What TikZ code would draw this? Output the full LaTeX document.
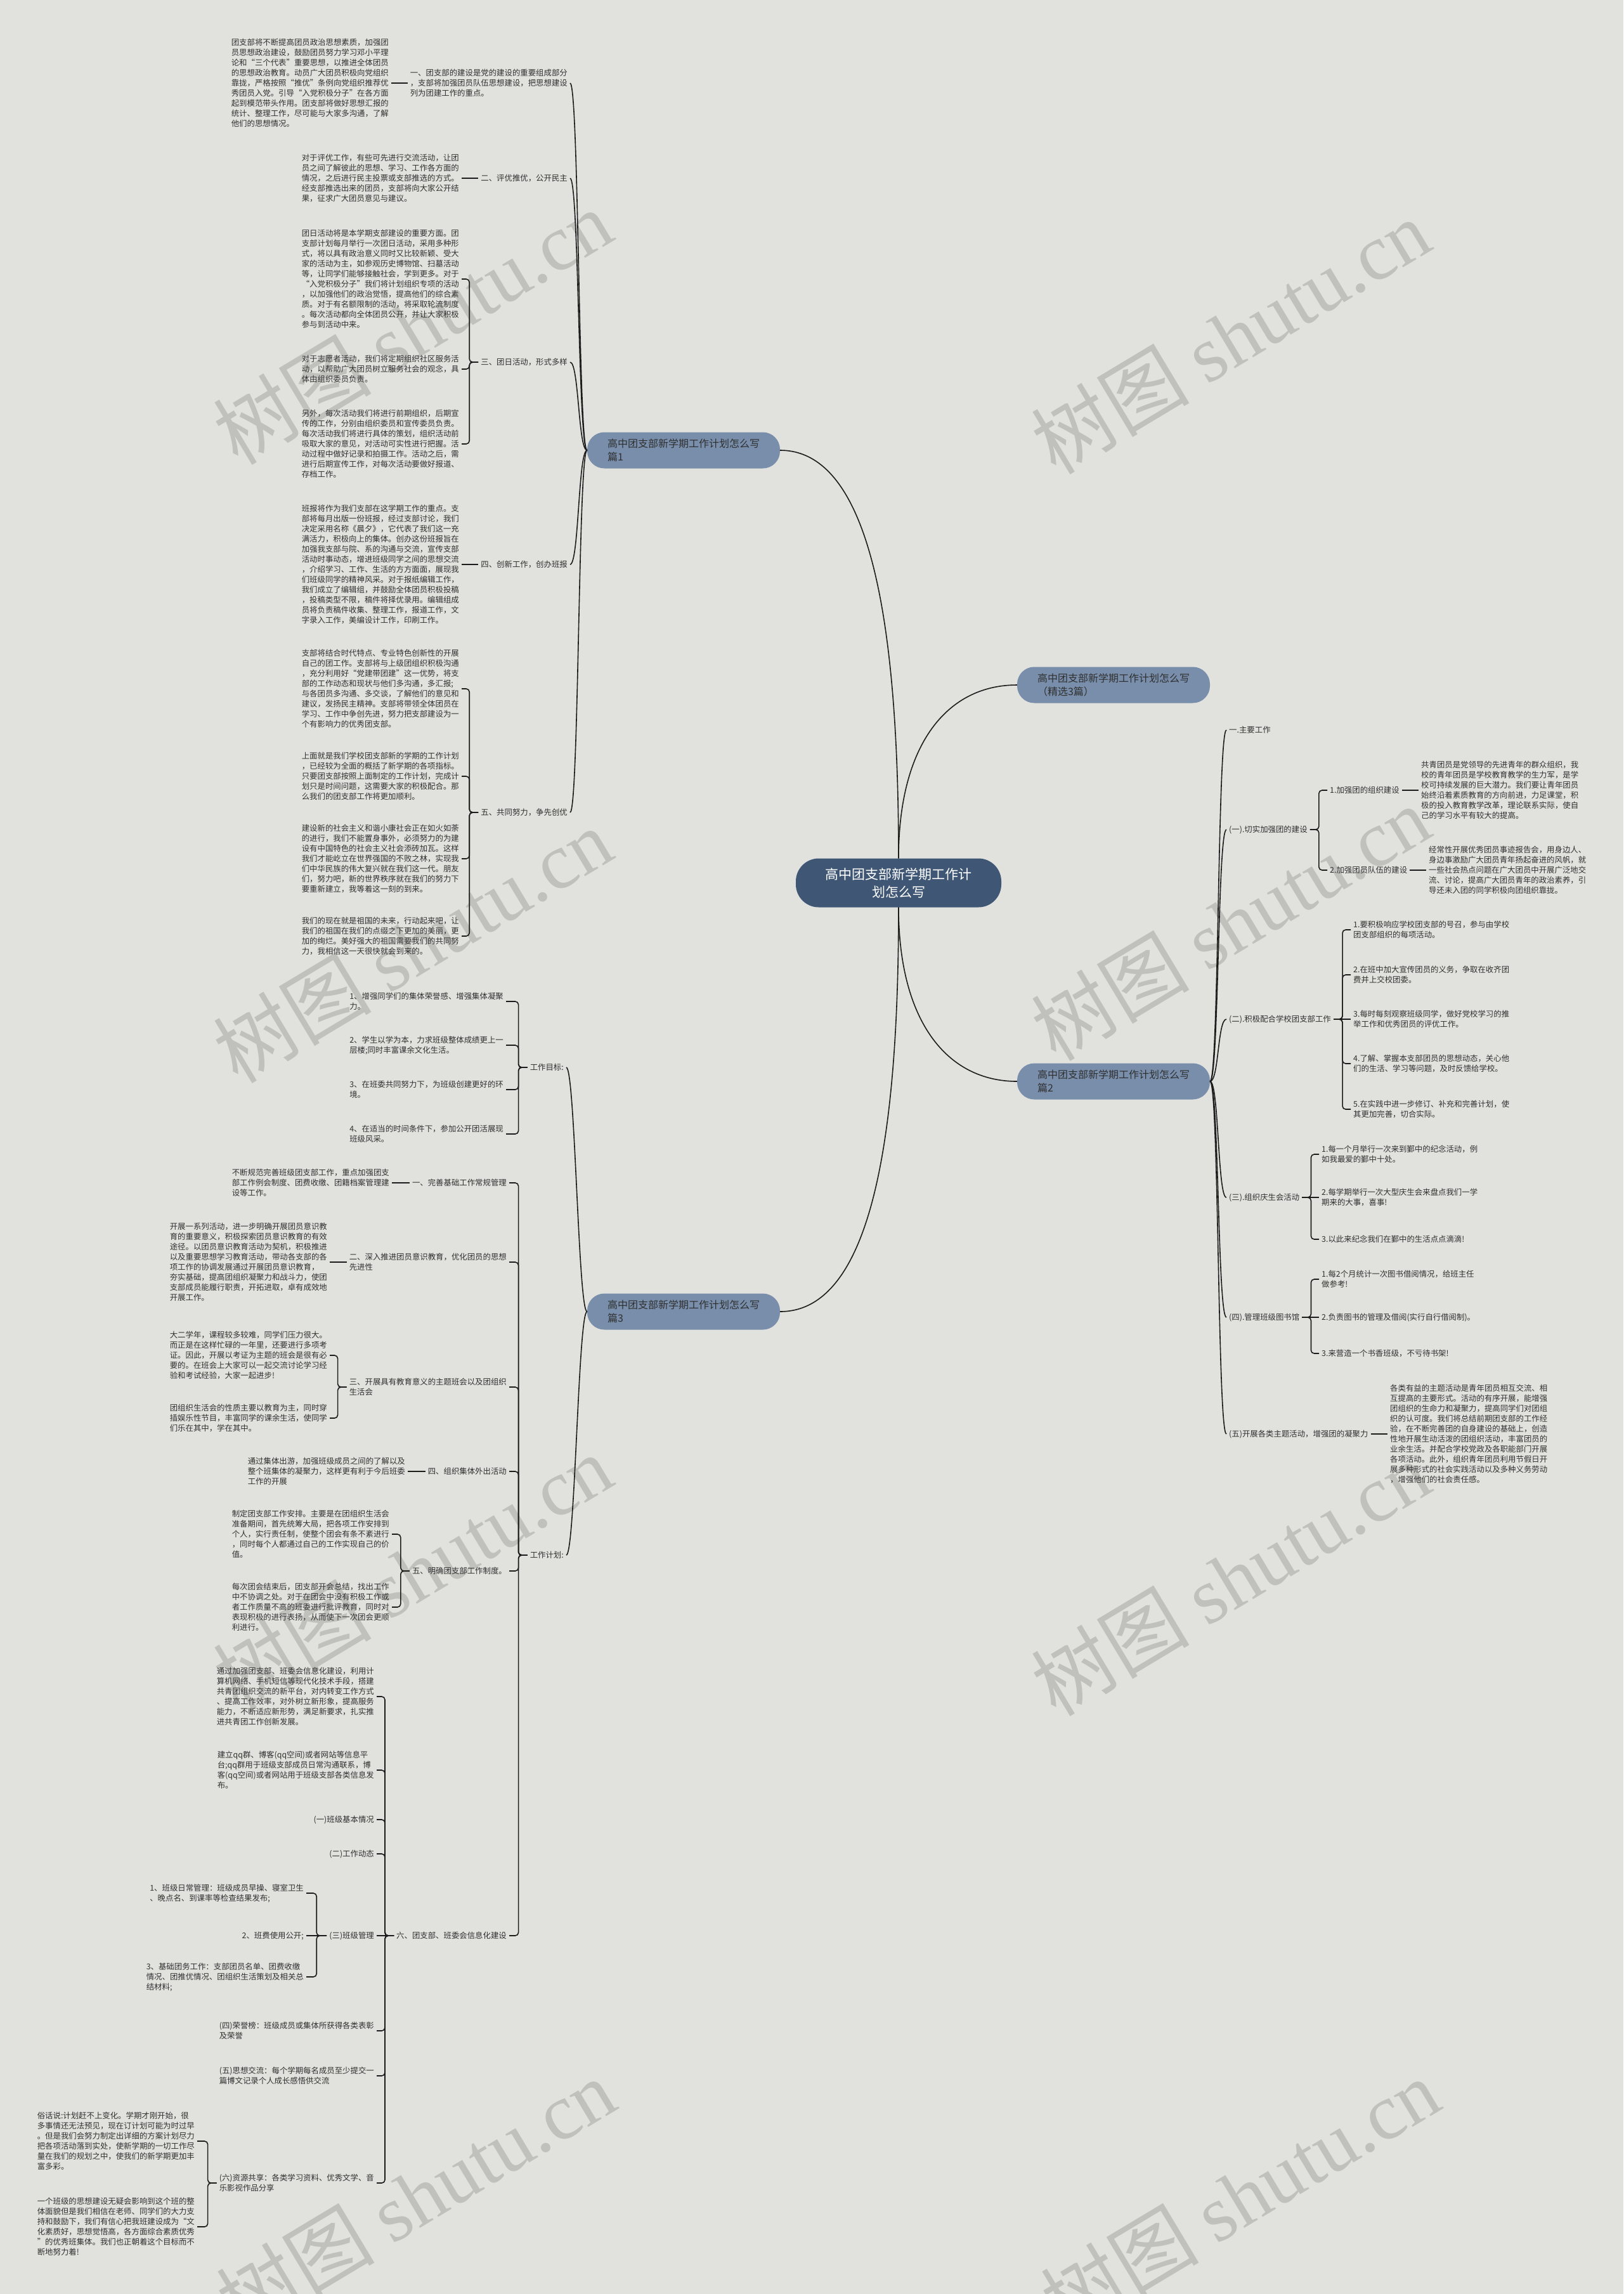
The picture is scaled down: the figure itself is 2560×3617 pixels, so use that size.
\documentclass[tikz,border=0pt]{standalone}
\usepackage{fontspec}
\setmainfont{Noto Sans CJK SC}
\newfontfamily\wmfont{Liberation Serif}
\usetikzlibrary{positioning}

\definecolor{paper}{RGB}{225,226,222}
\definecolor{ink}{RGB}{48,48,48}
\definecolor{wire}{RGB}{28,28,28}
\definecolor{rootblue}{RGB}{63,87,117}
\definecolor{catblue}{RGB}{120,142,171}
\definecolor{wmgray}{RGB}{192,193,189}

\tikzset{
  txt/.style={font=\fontsize{12.4}{16}\selectfont, text=ink, align=left, inner xsep=4pt, inner ysep=1pt},
  cat/.style={fill=catblue, rounded corners=27pt, minimum width=304pt, minimum height=57pt,
    font=\fontsize{16}{21}\selectfont, text=ink, align=left},
  root/.style={fill=rootblue, rounded corners=36pt, minimum width=324pt, minimum height=77pt,
    font=\fontsize{21}{28}\selectfont, text=white, align=center},
  link/.style={draw=wire, line width=1.6pt},
  brk/.style={link, rounded corners=5pt},
  wm/.style={text=wmgray, font=\fontsize{125}{125}\selectfont, rotate=31, inner sep=0pt}
}

\begin{document}
\begin{tikzpicture}[x=1pt, y=-1pt]
    \fill[paper] (0,0) rectangle (2560,3617);
    \useasboundingbox (0,0) rectangle (2560,3617);

    % watermark
    \foreach \wx/\wy [count=\i] in {650/515, 1940/530, 650/1490, 1940/1455, 650/2478, 1940/2488, 655/3462, 1955/3462}
        \node[wm] (wm\i) at (\wx,\wy) {树图 {\wmfont shutu.cn}};

    % ---------------- ROOT ---------------- %
    \node[root] (root) at (1417,1392) {高中团支部新学期工作计\\划怎么写};
    \node[cat] (c1) at (1078,710) {高中团支部新学期工作计划怎么写\\篇1};
    \node[cat] (c0) at (1756,1080) {高中团支部新学期工作计划怎么写\\（精选3篇）};
    \node[cat] (c2) at (1756,1705) {高中团支部新学期工作计划怎么写\\篇2};
    \node[cat] (c3) at (1078,2068) {高中团支部新学期工作计划怎么写\\篇3};

    \draw[link] (root.north) .. controls +(0,-340) and +(150,0) .. (c1.east);
    \draw[link] (root.north) .. controls +(0,-180) and +(-110,0) .. (c0.west);
    \draw[link] (root.south) .. controls +(0,180) and +(-110,0) .. (c2.west);
    \draw[link] (root.south) .. controls +(0,340) and +(150,0) .. (c3.east);

    % ---------------- BRANCH 1 ---------------- %
    \begin{scope}
        \node[txt, anchor=east] (a1) at (899,131) {一、团支部的建设是党的建设的重要组成部分\\，支部将加强团员队伍思想建设，把思想建设\\列为团建工作的重点。};
        \node[txt, anchor=east] (t1) at (617,131) {团支部将不断提高团员政治思想素质，加强团\\员思想政治建设，鼓励团员努力学习邓小平理\\论和“三个代表”重要思想，以推进全体团员\\的思想政治教育。动员广大团员积极向党组织\\靠拢，严格按照“推优”条例向党组织推荐优\\秀团员入党。引导“入党积极分子”在各方面\\起到模范带头作用。团支部将做好思想汇报的\\统计、整理工作，尽可能与大家多沟通，了解\\他们的思想情况。};
        \node[txt, anchor=east] (a2) at (899,281) {二、评优推优，公开民主};
        \node[txt, anchor=east] (t2) at (728,281) {对于评优工作，有些可先进行交流活动，让团\\员之间了解彼此的思想、学习、工作各方面的\\情况，之后进行民主投票或支部推选的方式。\\经支部推选出来的团员，支部将向大家公开结\\果，征求广大团员意见与建议。};
        \node[txt, anchor=east] (a3) at (899,571) {三、团日活动，形式多样};
        \node[txt, anchor=east] (t3a) at (728,440) {团日活动将是本学期支部建设的重要方面。团\\支部计划每月举行一次团日活动，采用多种形\\式，将以具有政治意义同时又比较新颖、受大\\家的活动为主，如参观历史博物馆、扫墓活动\\等，让同学们能够接触社会，学到更多。对于\\“入党积极分子”我们将计划组织专项的活动\\，以加强他们的政治觉悟，提高他们的综合素\\质。对于有名额限制的活动，将采取轮流制度\\。每次活动都向全体团员公开，并让大家积极\\参与到活动中来。};
        \node[txt, anchor=east] (t3b) at (728,582) {对于志愿者活动，我们将定期组织社区服务活\\动，以帮助广大团员树立服务社会的观念，具\\体由组织委员负责。};
        \node[txt, anchor=east] (t3c) at (728,700) {另外，每次活动我们将进行前期组织，后期宣\\传的工作，分别由组织委员和宣传委员负责。\\每次活动我们将进行具体的策划，组织活动前\\吸取大家的意见，对活动可实性进行把握。活\\动过程中做好记录和拍摄工作。活动之后，需\\进行后期宣传工作，对每次活动要做好报道、\\存档工作。};
        \node[txt, anchor=east] (a4) at (899,890) {四、创新工作，创办班报};
        \node[txt, anchor=east] (t4) at (728,890) {班报将作为我们支部在这学期工作的重点。支\\部将每月出版一份班报，经过支部讨论，我们\\决定采用名称《晨夕》，它代表了我们这一充\\满活力，积极向上的集体。创办这份班报旨在\\加强我支部与院、系的沟通与交流，宣传支部\\活动时事动态，增进班级同学之间的思想交流\\，介绍学习、工作、生活的方方面面，展现我\\们班级同学的精神风采。对于报纸编辑工作，\\我们成立了编辑组，并鼓励全体团员积极投稿\\，投稿类型不限，稿件将择优录用。编辑组成\\员将负责稿件收集、整理工作，报道工作，文\\字录入工作，美编设计工作，印刷工作。};
        \node[txt, anchor=east] (a5) at (899,1281) {五、共同努力，争先创优};
        \node[txt, anchor=east] (t5a) at (728,1086) {支部将结合时代特点、专业特色创新性的开展\\自己的团工作。支部将与上级团组织积极沟通\\，充分利用好“党建带团建”这一优势，将支\\部的工作动态和现状与他们多沟通，多汇报;\\与各团员多沟通、多交谈，了解他们的意见和\\建议，发扬民主精神。支部将带领全体团员在\\学习、工作中争创先进，努力把支部建设为一\\个有影响力的优秀团支部。};
        \node[txt, anchor=east] (t5b) at (728,1224) {上面就是我们学校团支部新的学期的工作计划\\，已经较为全面的概括了新学期的各项指标。\\只要团支部按照上面制定的工作计划，完成计\\划只是时间问题，这需要大家的积极配合。那\\么我们的团支部工作将更加顺利。};
        \node[txt, anchor=east] (t5c) at (728,1354) {建设新的社会主义和谐小康社会正在如火如荼\\的进行，我们不能置身事外，必须努力的为建\\设有中国特色的社会主义社会添砖加瓦。这样\\我们才能屹立在世界强国的不败之林，实现我\\们中华民族的伟大复兴就在我们这一代。朋友\\们，努力吧，新的世界秩序就在我们的努力下\\要重新建立，我等着这一刻的到来。};
        \node[txt, anchor=east] (t5d) at (728,1476) {我们的现在就是祖国的未来，行动起来吧，让\\我们的祖国在我们的点缀之下更加的美丽，更\\加的绚烂。美好强大的祖国需要我们的共同努\\力，我相信这一天很快就会到来的。};

        \foreach \l in {a1,a2,a3,a4,a5}
            \draw[link] (c1.west) .. controls +(-14,0) and +(14,0) .. (\l.east);
        \draw[link] (t1.east) -- (a1.west);
        \draw[link] (t2.east) -- (a2.west);
        \draw[link] (t4.east) -- (a4.west);
        \foreach \c in {t3a,t3b,t3c}
            \draw[brk] (a3.west) -- ++(-14,0) |- (\c.east);
        \foreach \c in {t5a,t5b,t5c,t5d}
            \draw[brk] (a5.west) -- ++(-14,0) |- (\c.east);
    \end{scope}

    % ---------------- BRANCH 3 ---------------- %
    \begin{scope}
        \node[txt, anchor=east] (g) at (893,1683) {工作目标:};
        \node[txt, anchor=east] (g1) at (798,1579) {1、增强同学们的集体荣誉感、增强集体凝聚\\力。};
        \node[txt, anchor=east] (g2) at (798,1648) {2、学生以学为本，力求班级整体成绩更上一\\层楼;同时丰富课余文化生活。};
        \node[txt, anchor=east] (g3) at (798,1718) {3、在班委共同努力下，为班级创建更好的环\\境。};
        \node[txt, anchor=east] (g4) at (798,1788) {4、在适当的时间条件下，参加公开团活展现\\班级风采。};

        \node[txt, anchor=east] (w) at (893,2452) {工作计划:};
        \node[txt, anchor=east] (p1) at (803,1865) {一、完善基础工作常规管理};
        \node[txt, anchor=east] (q1) at (618,1865) {不断规范完善班级团支部工作，重点加强团支\\部工作例会制度、团费收缴、团籍档案管理建\\设等工作。};
        \node[txt, anchor=east] (p2) at (803,1990) {二、深入推进团员意识教育，优化团员的思想\\先进性};
        \node[txt, anchor=east] (q2) at (520,1990) {开展一系列活动，进一步明确开展团员意识教\\育的重要意义，积极探索团员意识教育的有效\\途径。以团员意识教育活动为契机，积极推进\\以及重要思想学习教育活动，带动各支部的各\\项工作的协调发展通过开展团员意识教育，\\夯实基础，提高团组织凝聚力和战斗力，使团\\支部成员能履行职责，开拓进取，卓有成效地\\开展工作。};
        \node[txt, anchor=east] (p3) at (803,2187) {三、开展具有教育意义的主题班会以及团组织\\生活会};
        \node[txt, anchor=east] (q3a) at (520,2137) {大二学年，课程较多较难，同学们压力很大。\\而正是在这样忙碌的一年里，还要进行多项考\\证。因此，开展以考证为主题的班会是很有必\\要的。在班会上大家可以一起交流讨论学习经\\验和考试经验，大家一起进步!};
        \node[txt, anchor=east] (q3b) at (520,2236) {团组织生活会的性质主要以教育为主，同时穿\\插娱乐性节目，丰富同学的课余生活，使同学\\们乐在其中，学在其中。};
        \node[txt, anchor=east] (p4) at (803,2320) {四、组织集体外出活动};
        \node[txt, anchor=east] (q4) at (643,2320) {通过集体出游，加强班级成员之间的了解以及\\整个班集体的凝聚力，这样更有利于今后班委\\工作的开展};
        \node[txt, anchor=east] (p5) at (803,2477) {五、明确团支部工作制度。};
        \node[txt, anchor=east] (q5a) at (618,2419) {制定团支部工作安排。主要是在团组织生活会\\准备期间，首先统筹大局，把各项工作安排到\\个人，实行责任制，使整个团会有条不紊进行\\，同时每个人都通过自己的工作实现自己的价\\值。};
        \node[txt, anchor=east] (q5b) at (618,2534) {每次团会结束后，团支部开会总结，找出工作\\中不协调之处。对于在团会中没有积极工作或\\者工作质量不高的班委进行批评教育，同时对\\表现积极的进行表扬，从而使下一次团会更顺\\利进行。};
        \node[txt, anchor=east] (p6) at (803,3052) {六、团支部、班委会信息化建设};
        \node[txt, anchor=east] (r1) at (594,2675) {通过加强团支部、班委会信息化建设，利用计\\算机网络、手机短信等现代化技术手段，搭建\\共青团组织交流的新平台，对内转变工作方式\\、提高工作效率，对外树立新形象，提高服务\\能力，不断适应新形势，满足新要求，扎实推\\进共青团工作创新发展。};
        \node[txt, anchor=east] (r2) at (594,2791) {建立qq群、博客(qq空间)或者网站等信息平\\台;qq群用于班级支部成员日常沟通联系，博\\客(qq空间)或者网站用于班级支部各类信息发\\布。};
        \node[txt, anchor=east] (r3) at (594,2869) {(一)班级基本情况};
        \node[txt, anchor=east] (r4) at (594,2923) {(二)工作动态};
        \node[txt, anchor=east] (r5) at (594,3052) {(三)班级管理};
        \node[txt, anchor=east] (s1) at (483,2985) {1、班级日常管理：班级成员早操、寝室卫生\\、晚点名、到课率等检查结果发布;};
        \node[txt, anchor=east] (s2) at (483,3052) {2、班费使用公开;};
        \node[txt, anchor=east] (s3) at (483,3117) {3、基础团务工作：支部团员名单、团费收缴\\情况、团推优情况、团组织生活策划及相关总\\结材料;};
        \node[txt, anchor=east] (r6) at (594,3202) {(四)荣誉榜：班级成员或集体所获得各类表彰\\及荣誉};
        \node[txt, anchor=east] (r7) at (594,3273) {(五)思想交流：每个学期每名成员至少提交一\\篇博文记录个人成长感悟供交流};
        \node[txt, anchor=east] (r8) at (594,3442) {(六)资源共享：各类学习资料、优秀文学、音\\乐影视作品分享};
        \node[txt, anchor=east] (u1) at (311,3376) {俗话说:计划赶不上变化。学期才刚开始，很\\多事情还无法预见，现在订计划可能为时过早\\。但是我们会努力制定出详细的方案计划尽力\\把各项活动落到实处，使新学期的一切工作尽\\量在我们的规划之中，使我们的新学期更加丰\\富多彩。};
        \node[txt, anchor=east] (u2) at (311,3511) {一个班级的思想建设无疑会影响到这个班的整\\体面貌但是我们相信在老师、同学们的大力支\\持和鼓励下，我们有信心把我班建设成为“文\\化素质好，思想觉悟高，各方面综合素质优秀\\”的优秀班集体。我们也正朝着这个目标而不\\断地努力着!};

        \foreach \l in {g,w}
            \draw[link] (c3.west) .. controls +(-14,0) and +(14,0) .. (\l.east);
        \foreach \c in {g1,g2,g3,g4}
            \draw[brk] (g.west) -- ++(-14,0) |- (\c.east);
        \foreach \c in {p1,p2,p3,p4,p5,p6}
            \draw[brk] (w.west) -- ++(-14,0) |- (\c.east);
        \draw[link] (q1.east) -- (p1.west);
        \draw[link] (q2.east) -- (p2.west);
        \draw[link] (q4.east) -- (p4.west);
        \foreach \c in {q3a,q3b}
            \draw[brk] (p3.west) -- ++(-14,0) |- (\c.east);
        \foreach \c in {q5a,q5b}
            \draw[brk] (p5.west) -- ++(-14,0) |- (\c.east);
        \foreach \c in {r1,r2,r3,r4,r6,r7,r8}
            \draw[brk] (p6.west) -- ++(-14,0) |- (\c.east);
        \draw[link] (p6.west) -- (r5.east);
        \foreach \c in {s1,s3}
            \draw[brk] (r5.west) -- ++(-16,0) |- (\c.east);
        \draw[link] (r5.west) -- (s2.east);
        \foreach \c in {u1,u2}
            \draw[brk] (r8.west) -- ++(-14,0) |- (\c.east);
    \end{scope}

    % ---------------- BRANCH 2 ---------------- %
    \begin{scope}
        \node[txt, anchor=west] (m1) at (1934,1151) {一.主要工作};
        \node[txt, anchor=west] (m2) at (1934,1308) {(一).切实加强团的建设};
        \node[txt, anchor=west] (n1) at (2093,1246) {1.加强团的组织建设};
        \node[txt, anchor=west] (o1) at (2237,1246) {共青团员是党领导的先进青年的群众组织，我\\校的青年团员是学校教育教学的生力军，是学\\校可持续发展的巨大潜力。我们要让青年团员\\始终沿着素质教育的方向前进，力足课堂，积\\极的投入教育教学改革，理论联系实际，使自\\己的学习水平有较大的提高。};
        \node[txt, anchor=west] (n2) at (2093,1372) {2.加强团员队伍的建设};
        \node[txt, anchor=west] (o2) at (2249,1372) {经常性开展优秀团员事迹报告会，用身边人、\\身边事激励广大团员青年扬起奋进的风帆，就\\一些社会热点问题在广大团员中开展广泛地交\\流、讨论，提高广大团员青年的政治素养，引\\导还未入团的同学积极向团组织靠拢。};

        \node[txt, anchor=west] (m3) at (1934,1607) {(二).积极配合学校团支部工作};
        \node[txt, anchor=west] (n3a) at (2130,1466) {1.要积极响应学校团支部的号召，参与由学校\\团支部组织的每项活动。};
        \node[txt, anchor=west] (n3b) at (2130,1537) {2.在班中加大宣传团员的义务，争取在收齐团\\费并上交校团委。};
        \node[txt, anchor=west] (n3c) at (2130,1607) {3.每时每刻观察班级同学，做好党校学习的推\\举工作和优秀团员的评优工作。};
        \node[txt, anchor=west] (n3d) at (2130,1677) {4.了解、掌握本支部团员的思想动态，关心他\\们的生活、学习等问题，及时反馈给学校。};
        \node[txt, anchor=west] (n3e) at (2130,1749) {5.在实践中进一步修订、补充和完善计划，使\\其更加完善，切合实际。};

        \node[txt, anchor=west] (m4) at (1934,1888) {(三).组织庆生会活动};
        \node[txt, anchor=west] (n4a) at (2080,1820) {1.每一个月举行一次来到鄞中的纪念活动，例\\如我最爱的鄞中十处。};
        \node[txt, anchor=west] (n4b) at (2080,1888) {2.每学期举行一次大型庆生会来盘点我们一学\\期来的大事，喜事!};
        \node[txt, anchor=west] (n4c) at (2080,1954) {3.以此来纪念我们在鄞中的生活点点滴滴!};

        \node[txt, anchor=west] (m5) at (1934,2077) {(四).管理班级图书馆};
        \node[txt, anchor=west] (n5a) at (2080,2017) {1.每2个月统计一次图书借阅情况，给班主任\\做参考!};
        \node[txt, anchor=west] (n5b) at (2080,2077) {2.负责图书的管理及借阅(实行自行借阅制)。};
        \node[txt, anchor=west] (n5c) at (2080,2134) {3.来营造一个书香班级，不亏待书架!};

        \node[txt, anchor=west] (m6) at (1934,2261) {(五)开展各类主题活动，增强团的凝聚力};
        \node[txt, anchor=west] (o6) at (2188,2261) {各类有益的主题活动是青年团员相互交流、相\\互提高的主要形式。活动的有序开展，能增强\\团组织的生命力和凝聚力，提高同学们对团组\\织的认可度。我们将总结前期团支部的工作经\\验，在不断完善团的自身建设的基础上，创造\\性地开展生动活泼的团组织活动，丰富团员的\\业余生活。并配合学校党政及各职能部门开展\\各项活动。此外，组织青年团员利用节假日开\\展多种形式的社会实践活动以及多种义务劳动\\，增强他们的社会责任感。};

        \foreach \l in {m1,m2,m3,m4,m5,m6}
            \draw[link] (c2.east) .. controls +(14,0) and +(-14,0) .. (\l.west);
        \foreach \c in {n1,n2}
            \draw[brk] (m2.east) -- ++(14,0) |- (\c.west);
        \draw[link] (n1.east) -- (o1.west);
        \draw[link] (n2.east) -- (o2.west);
        \foreach \c in {n3a,n3b,n3d,n3e}
            \draw[brk] (m3.east) -- ++(14,0) |- (\c.west);
        \draw[link] (m3.east) -- (n3c.west);
        \foreach \c in {n4a,n4c}
            \draw[brk] (m4.east) -- ++(14,0) |- (\c.west);
        \draw[link] (m4.east) -- (n4b.west);
        \foreach \c in {n5a,n5c}
            \draw[brk] (m5.east) -- ++(14,0) |- (\c.west);
        \draw[link] (m5.east) -- (n5b.west);
        \draw[link] (m6.east) -- (o6.west);
    \end{scope}
\end{tikzpicture}
\end{document}
